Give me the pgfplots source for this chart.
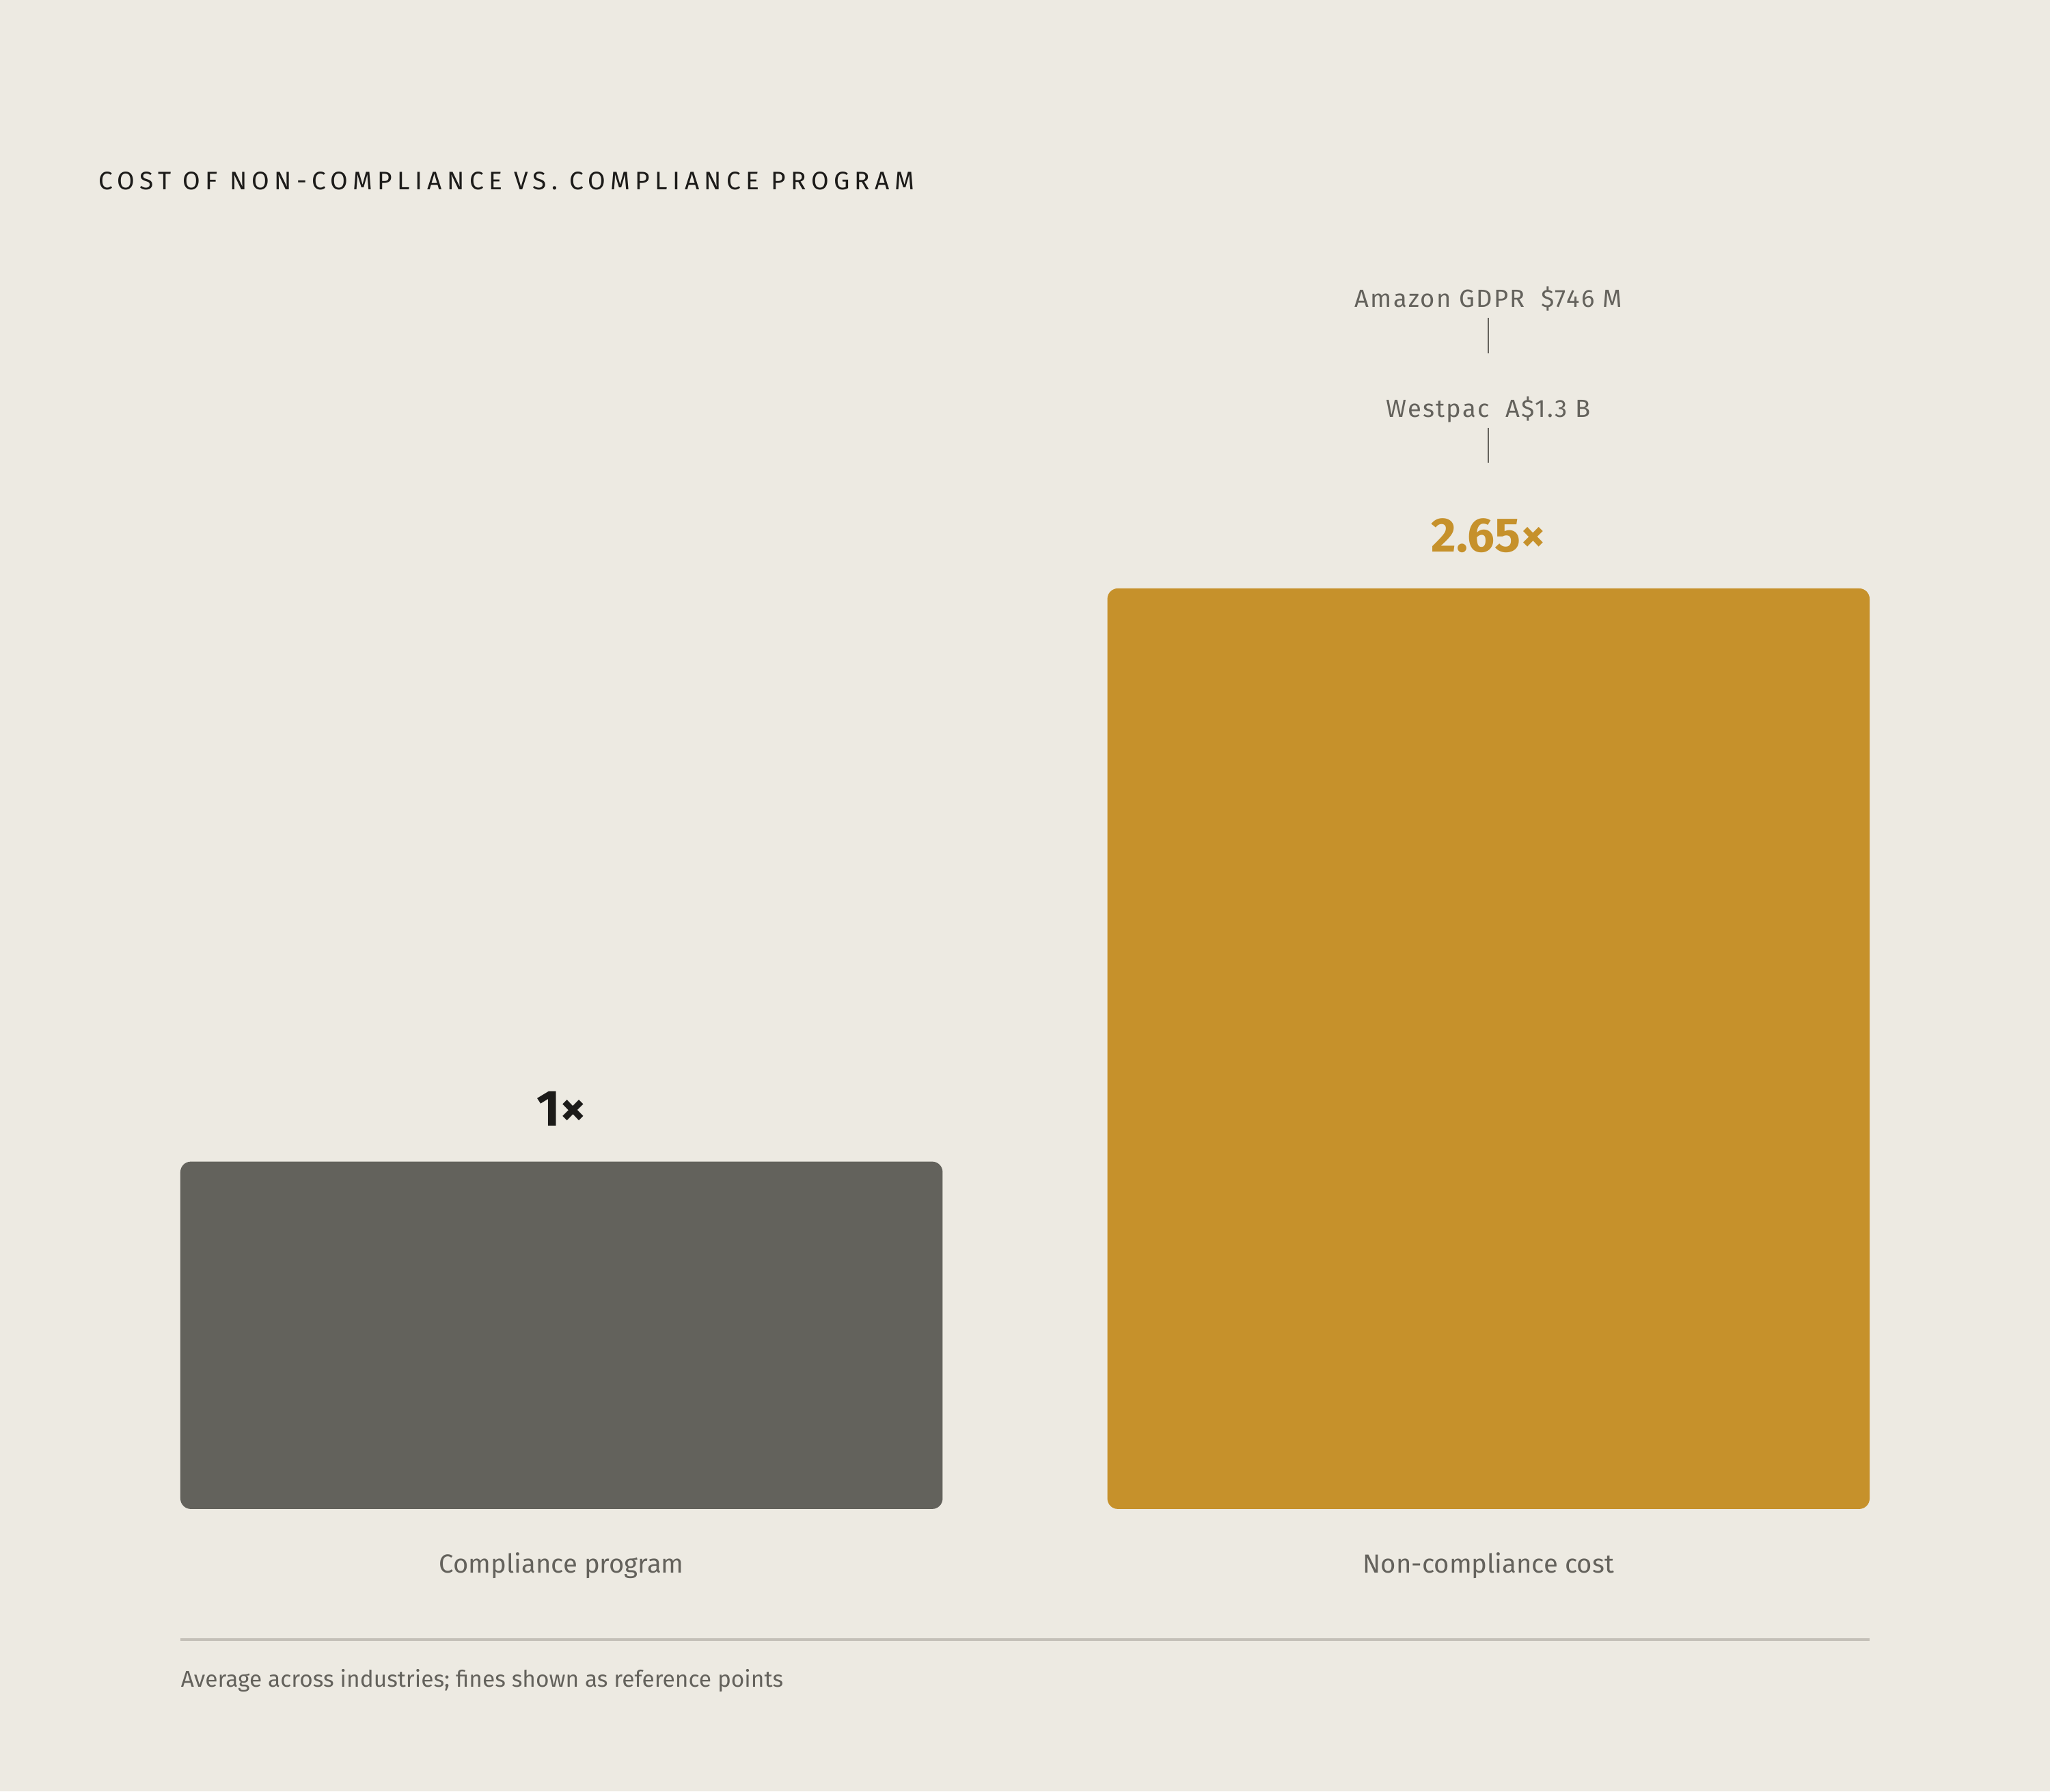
\documentclass[border=0pt]{standalone}
\usepackage{fontspec}
\setmainfont{Fira Sans}
\newfontfamily\titlefont[LetterSpace=19.7]{Fira Sans}
\newfontfamily\notefont[LetterSpace=6]{Fira Sans}
\usepackage{pgfplots}
\pgfplotsset{compat=1.18}
\definecolor{bg}{HTML}{EDEAE2}
\definecolor{barGray}{HTML}{63625C}
\definecolor{barGold}{HTML}{C6912B}
\definecolor{txtGray}{HTML}{64625C}
\definecolor{txtDark}{HTML}{1C1B19}
\definecolor{ruleGray}{HTML}{C4C0B8}
\begin{document}
\begin{tikzpicture}
% page background (1 screen px = 0.5bp, origin at bar baseline / left bar edge)
\fill[bg] (-69bp,-108bp) rectangle (715bp,577bp);
\begin{axis}[
    at={(0,0)}, anchor=south west,
    scale only axis,
    width=646bp, height=352bp,
    xmin=-0.4111, xmax=1.4111,
    ymin=0, ymax=2.65,
    hide axis,
    clip=false,
    ybar, bar width=291.5bp, bar shift=0pt,
]
\addplot[draw=none, fill=barGray, rounded corners=4bp] coordinates {(0,1)};
\addplot[draw=none, fill=barGold, rounded corners=4bp] coordinates {(1,2.65)};

% value labels
\node[anchor=base, yshift=13.5bp, text=txtDark, font=\fontsize{19.5bp}{22bp}\selectfont\bfseries] at (axis cs:0,1) {1×};
\node[anchor=base, yshift=14bp, text=barGold, font=\fontsize{18.5bp}{21bp}\selectfont\bfseries] at (axis cs:1,2.65) {2.65×};

% category labels
\node[anchor=base, text=txtGray, font=\fontsize{10bp}{12bp}\selectfont] at (axis cs:0,0) [yshift=-24.5bp] {Compliance program};
\node[anchor=base, text=txtGray, font=\fontsize{10bp}{12bp}\selectfont] at (axis cs:1,0) [yshift=-24.5bp] {Non-compliance cost};
\end{axis}

% reference-point annotations above the gold bar
\draw[txtGray, line width=0.6bp] (500.25bp,400bp) -- (500.25bp,413.5bp);
\node[anchor=base, text=txtGray, font=\notefont\fontsize{9.5bp}{11bp}\selectfont] at (500.25bp,417.5bp) {Westpac\ \ A\$1.3 B};
\draw[txtGray, line width=0.6bp] (500.25bp,442bp) -- (500.25bp,455.5bp);
\node[anchor=base, text=txtGray, font=\notefont\fontsize{9.5bp}{11bp}\selectfont] at (500.25bp,459.5bp) {Amazon GDPR\ \ \$746 M};

% title
\node[anchor=base west, inner sep=0pt, text=txtDark, font=\titlefont\fontsize{9.7bp}{11bp}\selectfont] at (-31.5bp,504.5bp) {COST OF NON-COMPLIANCE VS. COMPLIANCE PROGRAM};

% rule and footnote
\draw[ruleGray, line width=1bp] (0,-50bp) -- (646bp,-50bp);
\node[anchor=base west, inner sep=0pt, text=txtGray, font=\fontsize{8.75bp}{10bp}\selectfont] at (0,-68bp) {Average across industries; fines shown as reference points};
\end{tikzpicture}
\end{document}
